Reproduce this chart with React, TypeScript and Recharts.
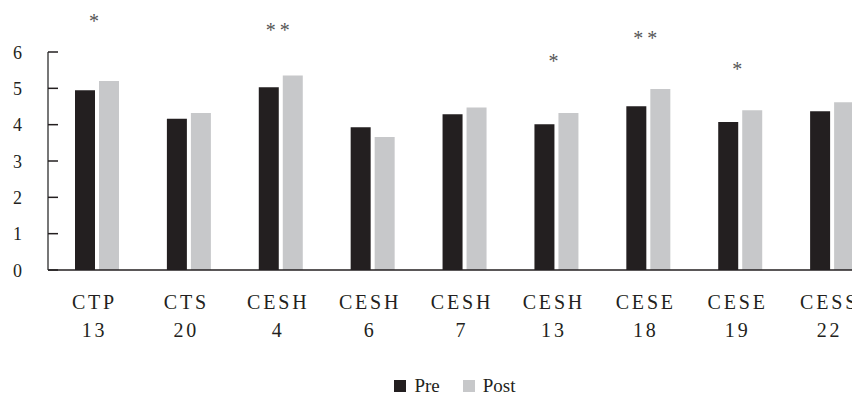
import React from 'react';
import { BarChart, Bar, XAxis, YAxis, Legend, LabelList } from 'recharts';

const categoryNames = ['CTP', 'CTS', 'CESH', 'CESH', 'CESH', 'CESH', 'CESE', 'CESE', 'CESS'];
const categoryNumbers = ['13', '20', '4', '6', '7', '13', '18', '19', '22'];
const preValues = [4.95, 4.16, 5.03, 3.93, 4.29, 4.01, 4.51, 4.07, 4.37];
const postValues = [5.2, 4.32, 5.35, 3.66, 4.47, 4.32, 4.98, 4.4, 4.62];
// significance marks and the height (in axis units) they sit at
const sigMarks = ['*', '', '**', '', '', '*', '**', '*', ''];
const sigLevels = [6.95, null, 6.72, null, null, 5.85, 6.5, 5.64, null];
const yTicks = [0, 1, 2, 3, 4, 5, 6];

const INK = '#231f20';
const POST = '#c7c8ca';
const FONT = '"Liberation Serif", "Times New Roman", serif';

const data = categoryNames.map((name, i) => ({
  key: `${name} ${categoryNumbers[i]}`,
  name,
  num: categoryNumbers[i],
  pre: preValues[i],
  post: postValues[i],
  sig: sigMarks[i],
  level: sigLevels[i],
}));

const YTick = (props: any) => {
  const { x, y, payload } = props;
  return (
    <g>
      <line x1={x} x2={x + 10} y1={y} y2={y} stroke={INK} strokeWidth={1.5} />
      <text x={x - 26} y={y} dy={6.5} textAnchor="end" fontSize={18} fill={INK} fontFamily={FONT}>
        {payload.value}
      </text>
    </g>
  );
};

const XTick = (props: any) => {
  const { x, y, index } = props;
  const d = data[index];
  if (!d) return null;
  return (
    <g>
      <text x={x - 2.5} y={y + 39} textAnchor="middle" fontSize={20} letterSpacing={2.8} fill={INK} fontFamily={FONT}>
        {d.name}
      </text>
      <text x={x - 2.5} y={y + 67} textAnchor="middle" fontSize={20} letterSpacing={2.8} fill={INK} fontFamily={FONT}>
        {d.num}
      </text>
    </g>
  );
};

// star drawn above the post bar, height derived from the bar's own scale
const StarLabel = (props: any) => {
  const vb = props.viewBox ?? props;
  const index = props.index;
  const d = data[index];
  if (!d || !d.sig || d.level == null) return null;
  const base = vb.y + vb.height;
  const perUnit = vb.height / d.post;
  const cy = base - d.level * perUnit;
  return (
    <text x={vb.x - 3} y={cy + 11} textAnchor="middle" fontSize={20} letterSpacing={4} fill="#555" fontFamily={FONT}>
      {d.sig}
    </text>
  );
};

const LegendBox = () => (
  <div
    style={{
      height: 34,
      boxSizing: 'border-box',
      paddingTop: 17,
      display: 'flex',
      justifyContent: 'center',
      alignItems: 'center',
      fontFamily: FONT,
      fontSize: 19,
      color: INK,
    }}
  >
    <span style={{ width: 12, height: 12, background: INK, display: 'inline-block', marginRight: 8 }} />
    <span style={{ marginRight: 23 }}>Pre</span>
    <span style={{ width: 12, height: 12, background: POST, display: 'inline-block', marginRight: 8 }} />
    <span>Post</span>
  </div>
);

export default function App() {
  return (
    <div style={{ width: 852, height: 386, overflow: 'hidden' }}>
      <BarChart
        width={880}
        height={386}
        data={data}
        margin={{ top: 44, right: 10, bottom: 0, left: 0 }}
        barSize={20}
        barGap={4}
      >
        <XAxis
          dataKey="key"
          height={90}
          interval={0}
          padding={{ left: 3, right: 0 }}
          axisLine={{ stroke: INK, strokeWidth: 1.5 }}
          tickLine={false}
          tickSize={0}
          tickMargin={0}
          tick={<XTick />}
        />
        <YAxis
          width={40}
          domain={[0, 6]}
          ticks={yTicks}
          allowDataOverflow
          axisLine={{ stroke: '#4a4a4a', strokeWidth: 1.5 }}
          tickLine={false}
          tickSize={0}
          tickMargin={0}
          tick={<YTick />}
        />
        <Legend
          verticalAlign="bottom"
          content={<LegendBox />}
          wrapperStyle={{ left: 0, width: 894 }}
        />
        <Bar dataKey="pre" name="Pre" fill={INK} isAnimationActive={false} />
        <Bar dataKey="post" name="Post" fill={POST} isAnimationActive={false}>
          <LabelList dataKey="sig" content={<StarLabel />} />
        </Bar>
      </BarChart>
    </div>
  );
}
